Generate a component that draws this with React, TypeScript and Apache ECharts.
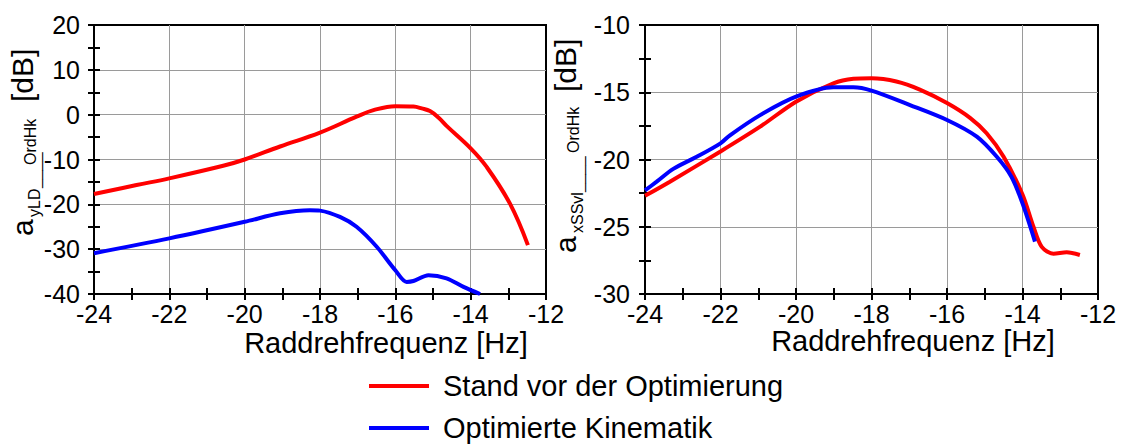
import React, { useEffect, useRef } from 'react';
import * as echarts from 'echarts';

const FONT = '"Liberation Sans", Arial, Helvetica, sans-serif';

const seriesNames = ['Stand vor der Optimierung', 'Optimierte Kinematik'];
const xAxisTitle = 'Raddrehfrequenz [Hz]';

// Left panel: a_yLD___OrdHk [dB]
const leftRedFreq = [-24, -22.87, -22, -20.57, -20, -19.06, -18, -17.03, -16.58, -16, -15.52, -15.3, -15.08, -14.85, -14.64, -14, -13.58, -12.96, -12.48];
const leftRedVal = [-17.7, -15.7, -14.2, -11.4, -10.0, -7.1, -4.0, -0.45, 1.0, 1.9, 1.8, 1.4, 0.8, -0.7, -2.5, -7.5, -11.6, -19.8, -29.1];
const leftBlueFreq = [-24, -22, -20, -19.06, -18.27, -18, -17.47, -17.03, -16.5, -16, -15.7, -15.52, -15.12, -14.64, -14.19, -13.75];
const leftBlueVal = [-30.9, -27.6, -23.9, -22.0, -21.3, -21.4, -22.8, -25.0, -29.4, -34.7, -37.3, -37.1, -35.8, -36.5, -38.4, -40.0];

// Right panel: a_xSSvl___OrdHk [dB]
const rightRedFreq = [-24, -23.34, -22, -20.95, -20, -19.01, -18.48, -18, -17.34, -16.72, -16, -15.39, -14.95, -14.5, -14, -13.71, -13.49, -13.18, -12.83, -12.48];
const rightRedVal = [-22.7, -21.65, -19.4, -17.56, -15.7, -14.34, -14.0, -13.96, -14.2, -14.8, -15.8, -16.9, -18.05, -19.8, -22.6, -25.0, -26.5, -27.0, -26.9, -27.1];
const rightBlueFreq = [-24, -23.69, -23.25, -22.63, -22, -21.75, -20.95, -20, -19.01, -18.48, -18, -16.98, -16, -15.21, -14.68, -14.29, -14, -13.67];
const rightBlueVal = [-22.3, -21.65, -20.7, -19.8, -18.8, -18.2, -16.7, -15.33, -14.63, -14.63, -14.88, -15.95, -17.06, -18.3, -19.8, -21.3, -23.26, -26.1];

// axis ranges
const xRange = { min: -24, max: -12, interval: 2 };
const leftYRange = { min: -40, max: 20, interval: 10 };
const rightYRange = { min: -30, max: -10, interval: 5 };

const pairs = (xs: number[], ys: number[]) => xs.map((x, i) => [x, ys[i]]);

function axisPair(kind: 'x' | 'y', gridIndex: number, range: { min: number; max: number; interval: number }, labelMargin: number) {
  const position = kind === 'x' ? 'bottom' : 'left';
  const tickStyle = { color: '#000', width: 2 };
  const main = {
    type: 'value',
    gridIndex,
    position,
    min: range.min,
    max: range.max,
    interval: range.interval,
    axisLine: { show: true, onZero: false, lineStyle: { color: '#000', width: 2 } },
    axisTick: { show: true, inside: false, length: 6, lineStyle: tickStyle },
    minorTick: { show: true, splitNumber: 2, length: 6, lineStyle: tickStyle },
    axisLabel: { show: true, fontSize: 25, fontFamily: FONT, color: '#000', margin: labelMargin },
    splitLine: { show: true, showMinLine: false, showMaxLine: false, lineStyle: { color: '#9a9a9a', width: 1 } },
    minorSplitLine: { show: false },
  };
  const dup = {
    type: 'value',
    gridIndex,
    position,
    min: range.min,
    max: range.max,
    interval: range.interval,
    axisLine: { show: false, onZero: false },
    axisTick: { show: true, inside: true, length: 6, lineStyle: tickStyle },
    minorTick: { show: true, splitNumber: 2, length: 6, lineStyle: tickStyle },
    axisLabel: { show: false },
    splitLine: { show: false },
  };
  return [main, dup];
}

type Part = { text: string; x: number; base: number; size: number };
function yTitle(ox: number, oy: number, parts: Part[]) {
  return {
    type: 'group',
    x: ox,
    y: oy,
    rotation: Math.PI / 2,
    children: parts.map((p) => ({
      type: 'text',
      x: p.x,
      y: p.base - 0.33 * p.size,
      style: { text: p.text, fontSize: p.size, fontFamily: FONT, fill: '#000', align: 'left', verticalAlign: 'middle' },
    })),
  };
}

export default function App() {
  const ref = useRef<HTMLDivElement>(null);
  useEffect(() => {
    document.body.style.margin = '0';
    const chart = echarts.init(ref.current!, undefined, { renderer: 'svg' });
    const lineStyle = (c: string) => ({ color: c, width: 4 });
    const option: any = {
      animation: false,
      backgroundColor: '#fff',
      textStyle: { fontFamily: FONT },
      grid: [
        { left: 94, top: 25, width: 452, height: 269, show: true, borderColor: '#000', borderWidth: 2, backgroundColor: 'transparent' },
        { left: 645, top: 25, width: 453, height: 269, show: true, borderColor: '#000', borderWidth: 2, backgroundColor: 'transparent' },
      ],
      xAxis: [...axisPair('x', 0, xRange, 7), ...axisPair('x', 1, xRange, 7)],
      yAxis: [...axisPair('y', 0, leftYRange, 14), ...axisPair('y', 1, rightYRange, 15)],
      legend: {
        orient: 'vertical',
        left: 369,
        top: 371,
        height: 90,
        width: 500,
        padding: 0,
        itemWidth: 60,
        itemHeight: 4,
        icon: 'rect',
        itemGap: 12,
        textStyle: { fontSize: 29, fontFamily: FONT, color: '#000', lineHeight: 30, padding: [0, 0, 0, 9] },
        data: seriesNames,
      },
      series: [
        { name: seriesNames[0], type: 'line', xAxisIndex: 0, yAxisIndex: 0, data: pairs(leftRedFreq, leftRedVal), smooth: 0.4, showSymbol: false, lineStyle: lineStyle('#ff0000'), itemStyle: { color: '#ff0000' } },
        { name: seriesNames[1], type: 'line', xAxisIndex: 0, yAxisIndex: 0, data: pairs(leftBlueFreq, leftBlueVal), smooth: 0.3, showSymbol: false, lineStyle: lineStyle('#0000ff'), itemStyle: { color: '#0000ff' } },
        { name: seriesNames[0], type: 'line', xAxisIndex: 2, yAxisIndex: 2, data: pairs(rightRedFreq, rightRedVal), smooth: 0.3, showSymbol: false, lineStyle: lineStyle('#ff0000'), itemStyle: { color: '#ff0000' } },
        { name: seriesNames[1], type: 'line', xAxisIndex: 2, yAxisIndex: 2, data: pairs(rightBlueFreq, rightBlueVal), smooth: 0.3, showSymbol: false, lineStyle: lineStyle('#0000ff'), itemStyle: { color: '#0000ff' } },
      ],
      graphic: [
        { type: 'text', x: 386, y: 343, style: { text: xAxisTitle, fontSize: 29, fontFamily: FONT, fill: '#000', align: 'center', verticalAlign: 'middle' } },
        { type: 'text', x: 913, y: 341, style: { text: xAxisTitle, fontSize: 29, fontFamily: FONT, fill: '#000', align: 'center', verticalAlign: 'middle' } },
        yTitle(32, 236, [
          { text: 'a', x: 0, base: 0, size: 30 },
          { text: 'yLD', x: 19, base: 8, size: 16 },
          { text: '____', x: 48, base: 8, size: 16 },
          { text: 'OrdHk', x: 71, base: 4, size: 16 },
          { text: '[dB]', x: 134, base: 0, size: 30 },
        ]),
        yTitle(575, 253, [
          { text: 'a', x: 0, base: 0, size: 30 },
          { text: 'xSSvl', x: 20, base: 8, size: 16 },
          { text: '____', x: 61, base: 8, size: 16 },
          { text: 'OrdHk', x: 100, base: 4, size: 16 },
          { text: '[dB]', x: 161, base: 0, size: 30 },
        ]),
      ],
    };
    chart.setOption(option);
    return () => chart.dispose();
  }, []);
  return <div ref={ref} style={{ position: 'absolute', left: 0, top: 0, width: 1122, height: 446 }} />;
}
